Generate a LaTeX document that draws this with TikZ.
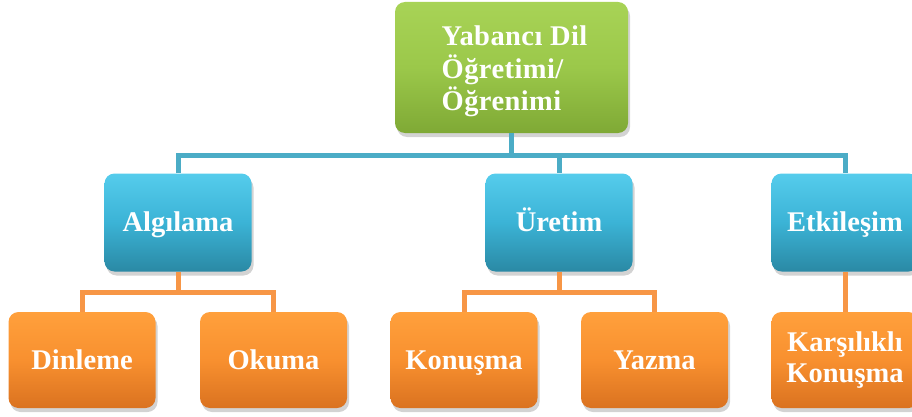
\documentclass[tikz,border=0pt]{standalone}
\usepackage{fontspec}
\setmainfont{Liberation Serif}
\newfontfamily\wideserif[LetterSpace=1.5]{Liberation Serif}
\usetikzlibrary{shadows}
\begin{document}
\begin{tikzpicture}[x=1pt,y=-1pt,
  box/.style={rounded corners=10pt, inner sep=0pt, text=white,
    font=\bfseries\fontsize{28.5}{30.5}\selectfont, align=center,
    drop shadow={opacity=0.35, shadow xshift=2pt, shadow yshift=-4pt}},
  oneline/.style={text height=19pt, text depth=1pt},
  topbox/.style={box, minimum width=233pt, minimum height=131pt,
    font=\wideserif\bfseries\fontsize{28.5}{29.5}\selectfont,
    top color=green top, bottom color=green bottom, middle color=green mid},
  midbox/.style={box, oneline, minimum width=147pt, minimum height=98pt,
    top color=teal top, bottom color=teal bottom, middle color=teal mid},
  leafbox/.style={box, minimum width=147pt, minimum height=96pt,
    top color=orange top, bottom color=orange bottom, middle color=orange mid},
  tealline/.style={draw=teal edge, line width=5pt},
  orangeline/.style={draw=orange edge, line width=5pt}]

\definecolor{green top}{HTML}{A8D356}
\definecolor{green mid}{HTML}{9BC84A}
\definecolor{green bottom}{HTML}{7FA935}
\definecolor{teal top}{HTML}{55CCEC}
\definecolor{teal mid}{HTML}{3BB3D6}
\definecolor{teal bottom}{HTML}{2A89A4}
\definecolor{orange top}{HTML}{FFA03C}
\definecolor{orange mid}{HTML}{F8902F}
\definecolor{orange bottom}{HTML}{DA7220}
\definecolor{teal edge}{HTML}{4BACC6}
\definecolor{orange edge}{HTML}{F79646}

\useasboundingbox (0,0) rectangle (912,417);

% level 1
\node[topbox] (top) at (511.5,67.5)
  {\hspace*{6pt}\raisebox{-5pt}[\height][\depth]{\begin{tabular}{@{}l@{}}Yabancı Dil\\Öğretimi/\\Öğrenimi\end{tabular}}};

% level 2
\node[midbox] (alg) at (178,222.5) {Algılama};
\node[midbox] (ure) at (559,222.5) {Üretim};
\node[midbox] (etk) at (845,222.5) {Etkileşim};

% level 3
\node[leafbox, oneline] (din) at (82,360) {Dinleme};
\node[leafbox, oneline] (oku) at (273.5,360) {Okuma};
\node[leafbox, oneline] (kon) at (464,360) {Konuşma};
\node[leafbox, oneline] (yaz) at (654.5,360) {Yazma};
\node[leafbox] (kar) at (845,360) {Karşılıklı\\Konuşma};

% connectors
\coordinate (bus) at (511.5,155);
\draw[tealline] (top.south) -- (bus);
\draw[tealline] (alg.north) |- (bus) -| (etk.north);
\draw[tealline] (bus -| ure.north) -- (ure.north);

\coordinate (algbus) at (178,292);
\coordinate (urebus) at (559,292);
\draw[orangeline] (alg.south) -- (algbus);
\draw[orangeline] (din.north) |- (algbus) -| (oku.north);
\draw[orangeline] (ure.south) -- (urebus);
\draw[orangeline] (kon.north) |- (urebus) -| (yaz.north);
\draw[orangeline] (etk.south) -- (kar.north);

\end{tikzpicture}
\end{document}
